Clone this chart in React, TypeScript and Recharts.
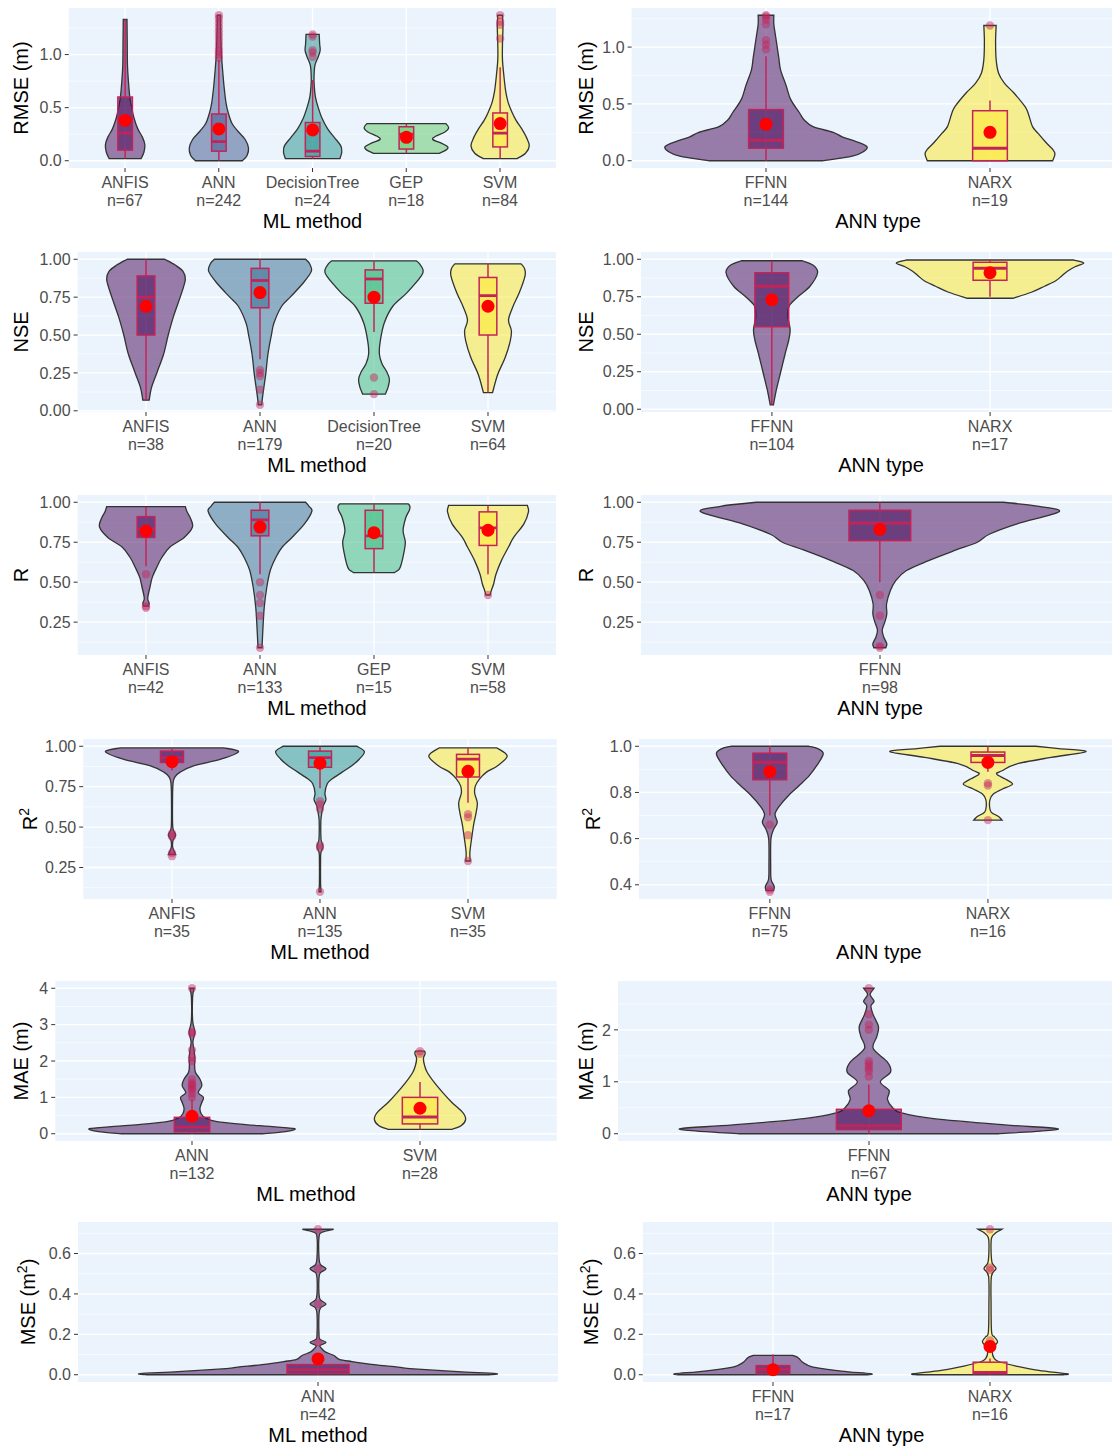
import React from "react";
import { ComposedChart, Bar, XAxis, YAxis, CartesianGrid } from "recharts";

const FONT = '"Liberation Sans", Arial, Helvetica, sans-serif';
const BG = "#EBF4FC";
const BOX = "#C2245A";
const VIRIDIS: Record<number, string[]> = {
  1: ["#440154"],
  2: ["#440154", "#FDE725"],
  3: ["#440154", "#21908C", "#FDE725"],
  4: ["#440154", "#31688E", "#35B779", "#FDE725"],
  5: ["#440154", "#3B528B", "#21908C", "#5DC863", "#FDE725"],
};

// violin outlines are [value, width as share of the category slot]
// boxes are [whisker low, q1, median, q3, whisker high]

// RMSE by ML method
const rmseMlCats = ["ANFIS", "ANN", "DecisionTree", "GEP", "SVM"];
const rmseMlN = [67, 242, 24, 18, 84];
const rmseMlViolin = [
  [[0.02, 0.34], [0.08, 0.4], [0.15, 0.42], [0.22, 0.37], [0.3, 0.27], [0.4, 0.19], [0.5, 0.14], [0.6, 0.1], [0.75, 0.07], [0.9, 0.05], [1.1, 0.045], [1.33, 0.04]],
  [[0.0, 0.5], [0.05, 0.6], [0.12, 0.63], [0.2, 0.56], [0.28, 0.4], [0.35, 0.28], [0.45, 0.2], [0.55, 0.15], [0.7, 0.11], [0.85, 0.08], [1.0, 0.055], [1.2, 0.04], [1.37, 0.035]],
  [[0.02, 0.58], [0.08, 0.62], [0.14, 0.6], [0.22, 0.46], [0.3, 0.32], [0.4, 0.2], [0.5, 0.12], [0.6, 0.06], [0.7, 0.035], [0.8, 0.03], [0.9, 0.05], [0.98, 0.12], [1.04, 0.16], [1.1, 0.15], [1.19, 0.14]],
  [[0.07, 0.7], [0.1, 0.84], [0.13, 0.88], [0.17, 0.72], [0.2, 0.56], [0.23, 0.62], [0.27, 0.82], [0.31, 0.9], [0.35, 0.84]],
  [[0.02, 0.36], [0.07, 0.54], [0.14, 0.62], [0.22, 0.56], [0.3, 0.46], [0.38, 0.34], [0.46, 0.25], [0.55, 0.17], [0.65, 0.12], [0.8, 0.08], [0.95, 0.05], [1.1, 0.05], [1.25, 0.06], [1.37, 0.05]],
];
const rmseMlBox = [[0.02, 0.1, 0.26, 0.6, 1.33], [0.0, 0.09, 0.18, 0.44, 0.95], [0.02, 0.04, 0.09, 0.36, 0.76], [0.07, 0.11, 0.25, 0.32, 0.35], [0.02, 0.13, 0.26, 0.45, 0.88]];
const rmseMlMean = [0.38, 0.3, 0.29, 0.22, 0.35];
const rmseMlOut = [[], [0.97, 1.0, 1.03, 1.06, 1.1, 1.14, 1.18, 1.22, 1.26, 1.3, 1.34, 1.37], [0.98, 1.02, 1.04, 1.17, 1.19], [], [1.15, 1.28, 1.31, 1.37]];

// RMSE by ANN type
const rmseAnnCats = ["FFNN", "NARX"];
const rmseAnnN = [144, 19];
const rmseAnnViolin = [
  [[0, 0.51], [0.04, 0.77], [0.08, 0.87], [0.125, 0.9], [0.17, 0.8], [0.21, 0.68], [0.25, 0.6], [0.3, 0.42], [0.36, 0.34], [0.42, 0.3], [0.54, 0.22], [0.66, 0.18], [0.8, 0.13], [0.9, 0.115], [1.0, 0.1], [1.1, 0.085], [1.2, 0.07], [1.28, 0.07]],
  [[0, 0.56], [0.06, 0.58], [0.1, 0.56], [0.16, 0.5], [0.24, 0.43], [0.3, 0.38], [0.42, 0.34], [0.48, 0.31], [0.6, 0.21], [0.68, 0.13], [0.77, 0.077], [0.89, 0.055], [1.05, 0.05], [1.19, 0.055]],
];
const rmseAnnBox = [[0.0, 0.11, 0.18, 0.45, 0.92], [0.0, 0.0, 0.11, 0.44, 0.53]];
const rmseAnnMean = [0.32, 0.25];
const rmseAnnOut = [[0.98, 1.02, 1.06, 1.2, 1.24, 1.27, 1.28], [1.19]];

// NSE by ML method
const nseMlCats = ["ANFIS", "ANN", "DecisionTree", "SVM"];
const nseMlN = [38, 179, 20, 64];
const nseMlViolin = [
  [[0.07, 0.056], [0.15, 0.094], [0.25, 0.19], [0.375, 0.31], [0.5, 0.39], [0.62, 0.48], [0.75, 0.6], [0.82, 0.66], [0.87, 0.69], [0.92, 0.65], [0.96, 0.52], [1.0, 0.33]],
  [[0.04, 0.03], [0.107, 0.05], [0.24, 0.1], [0.375, 0.14], [0.5, 0.2], [0.58, 0.245], [0.69, 0.38], [0.75, 0.53], [0.84, 0.75], [0.92, 0.9], [0.97, 0.87], [1.0, 0.8]],
  [[0.11, 0.2], [0.16, 0.25], [0.21, 0.27], [0.26, 0.22], [0.31, 0.14], [0.375, 0.094], [0.46, 0.11], [0.58, 0.18], [0.69, 0.33], [0.78, 0.58], [0.89, 0.83], [0.93, 0.86], [0.97, 0.8], [0.99, 0.74]],
  [[0.12, 0.08], [0.24, 0.17], [0.35, 0.3], [0.46, 0.39], [0.53, 0.41], [0.6, 0.36], [0.69, 0.44], [0.78, 0.55], [0.89, 0.65], [0.94, 0.64], [0.97, 0.58]],
];
const nseMlBox = [[0.07, 0.5, 0.75, 0.89, 1.0], [0.34, 0.68, 0.86, 0.94, 1.0], [0.52, 0.71, 0.87, 0.93, 0.99], [0.12, 0.5, 0.76, 0.88, 0.97]];
const nseMlMean = [0.69, 0.78, 0.75, 0.69];
const nseMlOut = [[], [0.27, 0.25, 0.23, 0.14, 0.04], [0.22, 0.11], []];

// NSE by ANN type
const nseAnnCats = ["FFNN", "NARX"];
const nseAnnN = [104, 17];
const nseAnnViolin = [
  [[0.03, 0.015], [0.13, 0.042], [0.25, 0.082], [0.375, 0.124], [0.46, 0.155], [0.53, 0.168], [0.62, 0.147], [0.69, 0.16], [0.75, 0.24], [0.82, 0.35], [0.91, 0.42], [0.96, 0.38], [0.99, 0.28]],
  [[0.74, 0.21], [0.78, 0.38], [0.82, 0.5], [0.855, 0.6], [0.89, 0.66], [0.92, 0.71], [0.95, 0.78], [0.975, 0.86], [0.995, 0.77]],
];
const nseAnnBox = [[0.03, 0.55, 0.82, 0.91, 0.99], [0.75, 0.86, 0.94, 0.98, 0.995]];
const nseAnnMean = [0.73, 0.91];
const nseAnnOut = [[], []];

// R by ML method
const rMlCats = ["ANFIS", "ANN", "GEP", "SVM"];
const rMlN = [42, 133, 15, 58];
const rMlViolin = [
  [[0.35, 0.045], [0.37, 0.055], [0.4, 0.03], [0.47, 0.07], [0.53, 0.11], [0.594, 0.19], [0.656, 0.28], [0.72, 0.42], [0.78, 0.67], [0.845, 0.815], [0.9, 0.78], [0.94, 0.72], [0.973, 0.69]],
  [[0.09, 0.035], [0.22, 0.053], [0.344, 0.075], [0.47, 0.12], [0.573, 0.18], [0.656, 0.28], [0.72, 0.39], [0.78, 0.56], [0.865, 0.78], [0.944, 0.91], [0.975, 0.86], [1.0, 0.8]],
  [[0.56, 0.36], [0.58, 0.44], [0.615, 0.48], [0.677, 0.52], [0.75, 0.55], [0.823, 0.51], [0.906, 0.56], [0.95, 0.62], [0.975, 0.63], [0.99, 0.6]],
  [[0.42, 0.035], [0.45, 0.06], [0.49, 0.1], [0.55, 0.14], [0.635, 0.235], [0.72, 0.36], [0.78, 0.45], [0.865, 0.63], [0.94, 0.71], [0.98, 0.69]],
];
const rMlBox = [[0.6, 0.78, 0.83, 0.91, 0.97], [0.55, 0.79, 0.89, 0.95, 1.0], [0.56, 0.71, 0.79, 0.95, 0.99], [0.55, 0.73, 0.84, 0.94, 0.98]];
const rMlMean = [0.82, 0.845, 0.81, 0.825];
const rMlOut = [[0.55, 0.35, 0.34], [0.5, 0.42, 0.37, 0.29, 0.09], [], [0.42]];

// R by ANN type
const rAnnCats = ["FFNN"];
const rAnnN = [98];
const rAnnViolin = [
  [[0.09, 0.03], [0.115, 0.035], [0.156, 0.02], [0.2, 0.012], [0.25, 0.025], [0.302, 0.035], [0.365, 0.034], [0.448, 0.053], [0.51, 0.08], [0.573, 0.134], [0.635, 0.245], [0.7, 0.38], [0.75, 0.49], [0.8, 0.55], [0.865, 0.69], [0.94, 0.9], [0.975, 0.8], [1.0, 0.62]],
];
const rAnnBox = [[0.5, 0.76, 0.87, 0.95, 1.0]];
const rAnnMean = [0.83];
const rAnnOut = [[0.42, 0.29, 0.1, 0.09]];

// R2 by ML method
const r2MlCats = ["ANFIS", "ANN", "SVM"];
const r2MlN = [35, 135, 35];
const r2MlViolin = [
  [[0.33, 0.05], [0.35, 0.03], [0.38, 0.008], [0.42, 0.015], [0.45, 0.05], [0.48, 0.02], [0.52, 0.008], [0.7, 0.008], [0.775, 0.015], [0.81, 0.04], [0.84, 0.11], [0.88, 0.3], [0.92, 0.66], [0.967, 0.9], [0.99, 0.7]],
  [[0.1, 0.015], [0.15, 0.008], [0.3, 0.008], [0.34, 0.012], [0.38, 0.04], [0.42, 0.015], [0.5, 0.01], [0.56, 0.015], [0.63, 0.043], [0.67, 0.08], [0.71, 0.067], [0.77, 0.1], [0.8, 0.17], [0.84, 0.3], [0.88, 0.43], [0.92, 0.53], [0.967, 0.6], [1.0, 0.5]],
  [[0.29, 0.03], [0.34, 0.025], [0.4, 0.04], [0.46, 0.058], [0.525, 0.08], [0.59, 0.11], [0.65, 0.126], [0.71, 0.09], [0.755, 0.1], [0.8, 0.16], [0.84, 0.25], [0.88, 0.4], [0.94, 0.53], [0.99, 0.39]],
];
const r2MlBox = [[0.85, 0.9, 0.93, 0.97, 0.99], [0.74, 0.87, 0.93, 0.97, 1.0], [0.65, 0.81, 0.92, 0.95, 0.99]];
const r2MlMean = [0.905, 0.895, 0.845];
const r2MlOut = [[0.46, 0.44, 0.34, 0.32], [0.66, 0.64, 0.61, 0.39, 0.37, 0.1], [0.58, 0.56, 0.45, 0.29]];

// R2 by ANN type
const r2AnnCats = ["FFNN", "NARX"];
const r2AnnN = [75, 16];
const r2AnnViolin = [
  [[0.375, 0.035], [0.394, 0.04], [0.423, 0.012], [0.48, 0.008], [0.597, 0.01], [0.64, 0.035], [0.67, 0.068], [0.706, 0.048], [0.742, 0.09], [0.786, 0.17], [0.83, 0.27], [0.872, 0.36], [0.916, 0.43], [0.967, 0.49], [0.99, 0.44], [1.0, 0.36]],
  [[0.68, 0.13], [0.695, 0.1], [0.715, 0.03], [0.742, 0.015], [0.77, 0.02], [0.793, 0.05], [0.814, 0.13], [0.836, 0.226], [0.858, 0.16], [0.88, 0.08], [0.894, 0.13], [0.923, 0.26], [0.952, 0.58], [0.977, 0.9], [0.99, 0.65], [1.0, 0.44]],
];
const r2AnnBox = [[0.7, 0.855, 0.93, 0.97, 1.0], [0.89, 0.93, 0.96, 0.975, 1.0]];
const r2AnnMean = [0.89, 0.93];
const r2AnnOut = [[0.66, 0.38, 0.37], [0.84, 0.83, 0.68]];

// MAE by ML method
const maeMlCats = ["ANN", "SVM"];
const maeMlN = [132, 28];
const maeMlViolin = [
  [[0, 0.62], [0.06, 0.82], [0.14, 0.9], [0.2, 0.68], [0.25, 0.47], [0.33, 0.22], [0.43, 0.12], [0.55, 0.08], [0.7, 0.07], [0.86, 0.086], [1.0, 0.1], [1.13, 0.055], [1.32, 0.086], [1.5, 0.07], [1.69, 0.03], [1.88, 0.023], [2.07, 0.025], [2.3, 0.018], [2.53, 0.008], [2.8, 0.025], [3.1, 0.006], [3.74, 0.005], [3.95, 0.015], [4.0, 0.02]],
  [[0.12, 0.28], [0.22, 0.36], [0.39, 0.4], [0.58, 0.376], [0.86, 0.28], [1.13, 0.2], [1.41, 0.125], [1.69, 0.063], [1.88, 0.04], [2.07, 0.03], [2.2, 0.045], [2.27, 0.04]],
];
const maeMlBox = [[0.0, 0.05, 0.18, 0.45, 0.95], [0.12, 0.27, 0.46, 1.0, 1.42]];
const maeMlMean = [0.48, 0.7];
const maeMlOut = [[4.0, 2.8, 2.75, 2.3, 2.1, 2.0, 1.5, 1.4, 1.35, 1.3, 1.25, 1.2, 1.1, 1.0], [2.27, 2.2]];

// MAE by ANN type
const maeAnnCats = ["FFNN"];
const maeAnnN = [67];
const maeAnnViolin = [
  [[0, 0.62], [0.05, 0.82], [0.1, 0.9], [0.17, 0.65], [0.29, 0.31], [0.4, 0.157], [0.5, 0.114], [0.66, 0.089], [0.83, 0.097], [1.0, 0.055], [1.19, 0.104], [1.38, 0.089], [1.64, 0.021], [1.87, 0.038], [2.06, 0.046], [2.29, 0.021], [2.46, 0.01], [2.55, 0.025], [2.68, 0.006], [2.8, 0.025]],
];
const maeAnnBox = [[0.0, 0.08, 0.15, 0.47, 0.95]];
const maeAnnMean = [0.44];
const maeAnnOut = [[2.8, 2.3, 2.1, 2.0, 1.4, 1.35, 1.3, 1.25, 1.2, 1.1]];

// MSE by ML method
const mseMlCats = ["ANN"];
const mseMlN = [42];
const mseMlViolin = [
  [[0.0, 0.86], [0.005, 0.89], [0.015, 0.7], [0.03, 0.46], [0.038, 0.4], [0.05, 0.28], [0.065, 0.17], [0.076, 0.107], [0.095, 0.08], [0.113, 0.036], [0.13, 0.018], [0.145, 0.01], [0.16, 0.04], [0.175, 0.01], [0.2, 0.005], [0.3, 0.005], [0.33, 0.012], [0.35, 0.04], [0.37, 0.012], [0.4, 0.005], [0.48, 0.005], [0.505, 0.012], [0.525, 0.04], [0.545, 0.012], [0.58, 0.005], [0.68, 0.005], [0.705, 0.02], [0.72, 0.078]],
];
const mseMlBox = [[0.0, 0.005, 0.025, 0.05, 0.1]];
const mseMlMean = [0.078];
const mseMlOut = [[0.72, 0.525, 0.35, 0.16]];

// MSE by ANN type
const mseAnnCats = ["FFNN", "NARX"];
const mseAnnN = [17, 16];
const mseAnnViolin = [
  [[0.0, 0.88], [0.005, 0.9], [0.018, 0.63], [0.038, 0.37], [0.05, 0.31], [0.063, 0.27], [0.08, 0.24], [0.088, 0.22], [0.096, 0.18]],
  [[0.0, 0.68], [0.005, 0.71], [0.022, 0.45], [0.043, 0.24], [0.063, 0.09], [0.08, 0.04], [0.113, 0.02], [0.138, 0.035], [0.163, 0.07], [0.188, 0.04], [0.21, 0.015], [0.345, 0.01], [0.487, 0.013], [0.525, 0.055], [0.553, 0.02], [0.61, 0.01], [0.678, 0.015], [0.705, 0.06], [0.72, 0.11]],
];
const mseAnnBox = [[0.0, 0.005, 0.027, 0.045, 0.1], [0.0, 0.005, 0.012, 0.062, 0.08]];
const mseAnnMean = [0.025, 0.14];
const mseAnnOut = [[], [0.72, 0.53, 0.52, 0.17, 0.15]];

type Panel = {
  cats: string[];
  n: number[];
  violin: number[][][];
  box: number[][];
  mean: number[];
  out: number[][];
  yTitle: string[];
  xTitle: string;
  domain: [number, number];
  ticks: number[];
  minor: number[];
  digits: number;
  x0: number;
  top: number;
  left: number;
  right: number;
  titleX: number;
};

const PLOT_H = 160;
const PAD_TOP = 4;
const AXIS_H = 40;
const PAD_BOTTOM = 30;

const panels: Panel[] = [
  { cats: rmseMlCats, n: rmseMlN, violin: rmseMlViolin, box: rmseMlBox, mean: rmseMlMean, out: rmseMlOut,
    yTitle: ["RMSE (m)"], xTitle: "ML method", domain: [-0.0685, 1.4385], ticks: [0, 0.5, 1], minor: [0.25, 0.75, 1.25], digits: 1,
    x0: 0, top: 8, left: 68.75, right: 556.25, titleX: 28 },
  { cats: rmseAnnCats, n: rmseAnnN, violin: rmseAnnViolin, box: rmseAnnBox, mean: rmseAnnMean, out: rmseAnnOut,
    yTitle: ["RMSE (m)"], xTitle: "ANN type", domain: [-0.064, 1.344], ticks: [0, 0.5, 1], minor: [0.25, 0.75, 1.25], digits: 1,
    x0: 556, top: 8, left: 631.6, right: 1124.4, titleX: 37 },
  { cats: nseMlCats, n: nseMlN, violin: nseMlViolin, box: nseMlBox, mean: nseMlMean, out: nseMlOut,
    yTitle: ["NSE"], xTitle: "ML method", domain: [-0.008, 1.048], ticks: [0, 0.25, 0.5, 0.75, 1], minor: [0.125, 0.375, 0.625, 0.875], digits: 2,
    x0: 0, top: 252, left: 77.6, right: 556.4, titleX: 28 },
  { cats: nseAnnCats, n: nseAnnN, violin: nseAnnViolin, box: nseAnnBox, mean: nseAnnMean, out: nseAnnOut,
    yTitle: ["NSE"], xTitle: "ANN type", domain: [-0.0185, 1.0485], ticks: [0, 0.25, 0.5, 0.75, 1], minor: [0.125, 0.375, 0.625, 0.875], digits: 2,
    x0: 556, top: 252, left: 641, right: 1121, titleX: 37 },
  { cats: rMlCats, n: rMlN, violin: rMlViolin, box: rMlBox, mean: rMlMean, out: rMlOut,
    yTitle: ["R"], xTitle: "ML method", domain: [0.0445, 1.0455], ticks: [0.25, 0.5, 0.75, 1], minor: [0.125, 0.375, 0.625, 0.875], digits: 2,
    x0: 0, top: 495, left: 77.6, right: 556.4, titleX: 28 },
  { cats: rAnnCats, n: rAnnN, violin: rAnnViolin, box: rAnnBox, mean: rAnnMean, out: rAnnOut,
    yTitle: ["R"], xTitle: "ANN type", domain: [0.0445, 1.0455], ticks: [0.25, 0.5, 0.75, 1], minor: [0.125, 0.375, 0.625, 0.875], digits: 2,
    x0: 556, top: 495, left: 641, right: 1119, titleX: 37 },
  { cats: r2MlCats, n: r2MlN, violin: r2MlViolin, box: r2MlBox, mean: r2MlMean, out: r2MlOut,
    yTitle: ["R", "2"], xTitle: "ML method", domain: [0.055, 1.045], ticks: [0.25, 0.5, 0.75, 1], minor: [0.125, 0.375, 0.625, 0.875], digits: 2,
    x0: 0, top: 739, left: 83.2, right: 556.8, titleX: 37 },
  { cats: r2AnnCats, n: r2AnnN, violin: r2AnnViolin, box: r2AnnBox, mean: r2AnnMean, out: r2AnnOut,
    yTitle: ["R", "2"], xTitle: "ANN type", domain: [0.3385, 1.0315], ticks: [0.4, 0.6, 0.8, 1], minor: [0.5, 0.7, 0.9], digits: 1,
    x0: 556, top: 739, left: 639, right: 1118.8, titleX: 44 },
  { cats: maeMlCats, n: maeMlN, violin: maeMlViolin, box: maeMlBox, mean: maeMlMean, out: maeMlOut,
    yTitle: ["MAE (m)"], xTitle: "ML method", domain: [-0.2, 4.2], ticks: [0, 1, 2, 3, 4], minor: [0.5, 1.5, 2.5, 3.5], digits: 0,
    x0: 0, top: 981, left: 55.2, right: 556.8, titleX: 28 },
  { cats: maeAnnCats, n: maeAnnN, violin: maeAnnViolin, box: maeAnnBox, mean: maeAnnMean, out: maeAnnOut,
    yTitle: ["MAE (m)"], xTitle: "ANN type", domain: [-0.14, 2.94], ticks: [0, 1, 2], minor: [0.5, 1.5, 2.5], digits: 0,
    x0: 556, top: 981, left: 618, right: 1120, titleX: 37 },
  { cats: mseMlCats, n: mseMlN, violin: mseMlViolin, box: mseMlBox, mean: mseMlMean, out: mseMlOut,
    yTitle: ["MSE (m", "2", ")"], xTitle: "ML method", domain: [-0.036, 0.756], ticks: [0, 0.2, 0.4, 0.6], minor: [0.1, 0.3, 0.5, 0.7], digits: 1,
    x0: 0, top: 1222, left: 78, right: 558, titleX: 35 },
  { cats: mseAnnCats, n: mseAnnN, violin: mseAnnViolin, box: mseAnnBox, mean: mseAnnMean, out: mseAnnOut,
    yTitle: ["MSE (m", "2", ")"], xTitle: "ANN type", domain: [-0.036, 0.756], ticks: [0, 0.2, 0.4, 0.6], minor: [0.1, 0.3, 0.5, 0.7], digits: 1,
    x0: 556, top: 1222, left: 642.8, right: 1120.2, titleX: 42 },
];

// cubic path through points (catmull-rom), control x kept on its own side of the centre
function smoothSeg(pts: number[][], cx: number, side: number) {
  let d = "";
  const clamp = (v: number) => (side > 0 ? Math.max(v, cx + 0.2) : Math.min(v, cx - 0.2));
  for (let i = 0; i < pts.length - 1; i++) {
    const p0 = pts[i - 1] || pts[i];
    const p1 = pts[i];
    const p2 = pts[i + 1];
    const p3 = pts[i + 2] || p2;
    const c1x = clamp(p1[0] + (p2[0] - p0[0]) / 6);
    const c1y = p1[1] + (p2[1] - p0[1]) / 6;
    const c2x = clamp(p2[0] - (p3[0] - p1[0]) / 6);
    const c2y = p2[1] - (p3[1] - p1[1]) / 6;
    d += ` C${c1x.toFixed(2)},${c1y.toFixed(2)} ${c2x.toFixed(2)},${c2y.toFixed(2)} ${p2[0].toFixed(2)},${p2[1].toFixed(2)}`;
  }
  return d;
}

const renderViolin = (props: any) => {
  const { x, y, width, height, payload } = props;
  if (!payload || !isFinite(y) || !isFinite(height)) return <g />;
  const [lo, hi] = payload.span;
  const top = Math.min(y, y + height);
  const bot = Math.max(y, y + height);
  const py = (v: number) => bot - ((v - lo) / (hi - lo)) * (bot - top);
  const cx = x + width / 2;
  const outline: number[][] = payload.violin;
  const right = outline.map(([v, w]) => [cx + (w * width) / 2, py(v)]);
  const left = outline.slice().reverse().map(([v, w]) => [cx - (w * width) / 2, py(v)]);
  const d =
    `M${right[0][0].toFixed(2)},${right[0][1].toFixed(2)}` +
    smoothSeg(right, cx, 1) +
    ` L${left[0][0].toFixed(2)},${left[0][1].toFixed(2)}` +
    smoothSeg(left, cx, -1) +
    " Z";
  const [wLo, q1, med, q3, wHi] = payload.box;
  const bw = width * 0.155;
  return (
    <g>
      <path d={d} fill={payload.color} fillOpacity={0.5} stroke="#333333" strokeWidth={1.3} />
      <line x1={cx} x2={cx} y1={py(wHi)} y2={py(q3)} stroke={BOX} strokeWidth={1.5} />
      <line x1={cx} x2={cx} y1={py(q1)} y2={py(wLo)} stroke={BOX} strokeWidth={1.5} />
      <rect x={cx - bw / 2} y={py(q3)} width={bw} height={Math.max(py(q1) - py(q3), 0.5)} fill={payload.color} fillOpacity={0.5} stroke={BOX} strokeWidth={1.5} />
      <line x1={cx - bw / 2} x2={cx + bw / 2} y1={py(med)} y2={py(med)} stroke={BOX} strokeWidth={2.8} />
      {payload.out.map((o: number, k: number) => (
        <circle key={k} cx={cx} cy={py(o)} r={4.2} fill={BOX} fillOpacity={0.45} />
      ))}
      <circle cx={cx} cy={py(payload.mean)} r={6.5} fill="#FF0000" />
    </g>
  );
};

function ViolinPanel({ p }: { p: Panel }) {
  const count = p.cats.length;
  const plotW = p.right - p.left;
  const slot = plotW / (count + 0.2);
  const colors = VIRIDIS[count];
  const rows = p.cats.map((c, i) => ({
    cat: c,
    span: [p.violin[i][0][0], p.violin[i][p.violin[i].length - 1][0]],
    violin: p.violin[i],
    box: p.box[i],
    mean: p.mean[i],
    out: p.out[i],
    color: colors[i],
  }));
  const width = p.right - p.x0;
  const height = PAD_TOP + PLOT_H + AXIS_H + PAD_BOTTOM;
  const catTick = (props: any) => {
    const { x, y, payload } = props;
    const idx = p.cats.indexOf(payload.value);
    return (
      <g>
        <text x={x} y={y + 14.3} textAnchor="middle" fill="#4D4D4D" fontSize={16} fontFamily={FONT}>{payload.value}</text>
        <text x={x} y={y + 32.3} textAnchor="middle" fill="#4D4D4D" fontSize={16} fontFamily={FONT}>{`n=${p.n[idx]}`}</text>
      </g>
    );
  };
  const cy = PAD_TOP + PLOT_H / 2;
  return (
    <div style={{ position: "absolute", left: p.x0, top: p.top - PAD_TOP, width, height }}>
      <ComposedChart width={width} height={height} data={rows} margin={{ top: PAD_TOP, right: 0, bottom: PAD_BOTTOM, left: 0 }} barCategoryGap={0} barGap={0}>
        <CartesianGrid fill={BG} fillOpacity={1} stroke="#FFFFFF" strokeWidth={1.3} syncWithTicks />
        <CartesianGrid horizontalValues={p.minor} vertical={false} stroke="#FFFFFF" strokeWidth={0.6} />
        <XAxis dataKey="cat" type="category" padding={{ left: slot * 0.1, right: slot * 0.1 }} height={AXIS_H} tickSize={4} tickMargin={2} axisLine={false} tickLine={{ stroke: "#333333" }} tick={catTick} interval={0} />
        <YAxis type="number" domain={p.domain} allowDataOverflow ticks={p.ticks} interval={0} width={p.left - p.x0} tickSize={4} tickMargin={3} axisLine={false} tickLine={{ stroke: "#333333" }}
          tick={{ fill: "#4D4D4D", fontSize: 16, fontFamily: FONT }} tickFormatter={(v: number) => v.toFixed(p.digits)} />
        <Bar dataKey="span" shape={renderViolin} isAnimationActive={false} />
      </ComposedChart>
      <svg width={width} height={height} style={{ position: "absolute", left: 0, top: 0, pointerEvents: "none" }}>
        <text x={p.titleX} y={cy} transform={`rotate(-90 ${p.titleX} ${cy})`} textAnchor="middle" fontSize={20} fontFamily={FONT} fill="#000">
          <tspan>{p.yTitle[0]}</tspan>
          {p.yTitle[1] && <tspan dy={-8} fontSize={14}>{p.yTitle[1]}</tspan>}
          {p.yTitle[2] && <tspan dy={8}>{p.yTitle[2]}</tspan>}
        </text>
        <text x={(p.left + p.right) / 2 - p.x0} y={PAD_TOP + PLOT_H + 60} textAnchor="middle" fontSize={20} fontFamily={FONT} fill="#000">{p.xTitle}</text>
      </svg>
    </div>
  );
}

export default function App() {
  return (
    <div style={{ position: "absolute", left: 0, top: 0, width: 1112, height: 1447, overflow: "hidden", background: "#FFFFFF" }}>
      {panels.map((p, i) => (
        <ViolinPanel key={i} p={p} />
      ))}
    </div>
  );
}
